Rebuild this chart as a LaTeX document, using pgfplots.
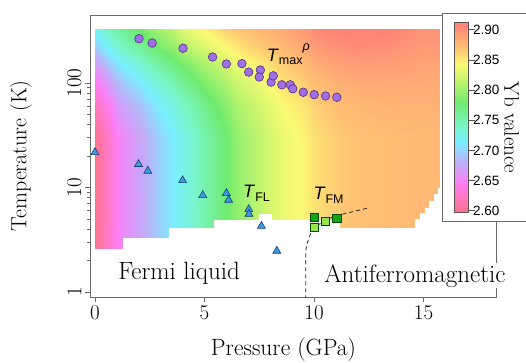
\documentclass[border=0pt]{standalone}
\usepackage{fontspec}
\setsansfont{Liberation Sans}
\usepackage{pgfplots}
\pgfplotsset{compat=1.18}
\definecolor{axgray}{RGB}{105,105,105}
\definecolor{cbgray}{RGB}{95,80,80}
\definecolor{circfill}{RGB}{160,110,230}
\definecolor{circdraw}{RGB}{80,50,130}
\definecolor{trifill}{RGB}{60,155,230}
\definecolor{tridraw}{RGB}{25,60,110}
\definecolor{sqdark}{RGB}{20,165,20}
\definecolor{sqlight}{RGB}{150,230,75}
\definecolor{sqdraw}{RGB}{0,70,0}
\pgfplotsset{colormap={yb}{rgb255(0pt)=(255,115,140) rgb255(15pt)=(255,125,245) rgb255(26pt)=(190,175,250) rgb255(37pt)=(120,240,255) rgb255(46.5pt)=(120,245,190) rgb255(57.5pt)=(110,235,110) rgb255(70pt)=(200,245,110) rgb255(78pt)=(250,250,115) rgb255(86pt)=(255,195,115) rgb255(100pt)=(255,125,120)}}
\begin{document}
\begin{tikzpicture}
\begin{axis}[
  scale only axis, width=406pt, height=282pt,
  xmin=-0.228, xmax=18.31, ymode=log, ymin=0.896, ymax=447,
  xtick={0,5,10,15}, xticklabels={0,5,10,15},
  ytick={1,10,100}, yticklabels={1,10,100},
  tick pos=left, tick align=outside,
  major tick length=5pt, minor tick length=3pt,
  axis line style={draw=axgray, line width=0.9pt},
  every tick/.append style={draw=axgray, line width=0.8pt},
  tick label style={font=\fontsize{21}{21}\selectfont},
  yticklabel style={rotate=90, anchor=south},
  every axis x label/.style={at={(axis description cs:0.4766,0)}, anchor=center, yshift=-53pt, font=\fontsize{23.5}{23.5}\selectfont},
  every axis y label/.style={at={(axis description cs:-0.17,0.5)}, rotate=90, anchor=center, font=\fontsize{22}{22}\selectfont},
  xlabel={Pressure (GPa)}, ylabel={Temperature (K)},
  colormap name=yb, point meta min=2.598, point meta max=2.913,
]
\addplot[surf, shader=interp, point meta=explicit, mesh/rows=7, mesh/ordering=y varies]
table[x=P, y=T, meta=V, row sep=\\] {
P T V\\
0 2.58 2.600\\ 0 30 2.600\\ 0 60 2.618\\ 0 100 2.642\\ 0 150 2.666\\ 0 220 2.696\\ 0 330 2.720\\
0.5 2.58 2.620\\ 0.5 30 2.620\\ 0.5 60 2.638\\ 0.5 100 2.662\\ 0.5 150 2.686\\ 0.5 220 2.716\\ 0.5 330 2.740\\
1.0 2.58 2.645\\ 1.0 30 2.645\\ 1.0 60 2.662\\ 1.0 100 2.684\\ 1.0 150 2.706\\ 1.0 220 2.733\\ 1.0 330 2.755\\
1.23 2.58 2.655\\ 1.23 30 2.655\\ 1.23 60 2.671\\ 1.23 100 2.692\\ 1.23 150 2.714\\ 1.23 220 2.741\\ 1.23 330 2.762\\
1.23 3.36 2.655\\ 1.23 30 2.655\\ 1.23 60 2.671\\ 1.23 100 2.692\\ 1.23 150 2.714\\ 1.23 220 2.741\\ 1.23 330 2.762\\
1.5 3.36 2.660\\ 1.5 30 2.660\\ 1.5 60 2.677\\ 1.5 100 2.699\\ 1.5 150 2.721\\ 1.5 220 2.748\\ 1.5 330 2.770\\
2.0 3.36 2.672\\ 2.0 30 2.672\\ 2.0 60 2.688\\ 2.0 100 2.710\\ 2.0 150 2.731\\ 2.0 220 2.758\\ 2.0 330 2.780\\
2.5 3.36 2.685\\ 2.5 30 2.685\\ 2.5 60 2.702\\ 2.5 100 2.724\\ 2.5 150 2.746\\ 2.5 220 2.773\\ 2.5 330 2.795\\
3.0 3.36 2.700\\ 3.0 30 2.700\\ 3.0 60 2.716\\ 3.0 100 2.737\\ 3.0 150 2.758\\ 3.0 220 2.784\\ 3.0 330 2.805\\
3.33 3.36 2.707\\ 3.33 30 2.707\\ 3.33 60 2.723\\ 3.33 100 2.744\\ 3.33 150 2.765\\ 3.33 220 2.791\\ 3.33 330 2.812\\
3.33 4.19 2.707\\ 3.33 30 2.707\\ 3.33 60 2.723\\ 3.33 100 2.744\\ 3.33 150 2.765\\ 3.33 220 2.791\\ 3.33 330 2.812\\
3.5 4.19 2.711\\ 3.5 30 2.711\\ 3.5 60 2.727\\ 3.5 100 2.747\\ 3.5 150 2.768\\ 3.5 220 2.794\\ 3.5 330 2.815\\
4.0 4.19 2.725\\ 4.0 30 2.725\\ 4.0 60 2.741\\ 4.0 100 2.762\\ 4.0 150 2.783\\ 4.0 220 2.809\\ 4.0 330 2.830\\
4.5 4.19 2.737\\ 4.5 30 2.737\\ 4.5 60 2.752\\ 4.5 100 2.773\\ 4.5 150 2.794\\ 4.5 220 2.819\\ 4.5 330 2.840\\
5.0 4.19 2.752\\ 5.0 30 2.752\\ 5.0 60 2.766\\ 5.0 100 2.786\\ 5.0 150 2.805\\ 5.0 220 2.829\\ 5.0 330 2.848\\
5.39 4.19 2.762\\ 5.39 30 2.762\\ 5.39 60 2.776\\ 5.39 100 2.794\\ 5.39 150 2.812\\ 5.39 220 2.835\\ 5.39 330 2.853\\
5.39 5.0 2.762\\ 5.39 30 2.762\\ 5.39 60 2.776\\ 5.39 100 2.794\\ 5.39 150 2.812\\ 5.39 220 2.835\\ 5.39 330 2.853\\
6.0 5.0 2.778\\ 6.0 30 2.778\\ 6.0 60 2.791\\ 6.0 100 2.807\\ 6.0 150 2.824\\ 6.0 220 2.845\\ 6.0 330 2.862\\
6.5 5.0 2.795\\ 6.5 30 2.795\\ 6.5 60 2.806\\ 6.5 100 2.821\\ 6.5 150 2.835\\ 6.5 220 2.853\\ 6.5 330 2.868\\
7.0 5.0 2.805\\ 7.0 30 2.805\\ 7.0 60 2.815\\ 7.0 100 2.828\\ 7.0 150 2.842\\ 7.0 220 2.859\\ 7.0 330 2.872\\
7.44 5.0 2.814\\ 7.44 30 2.814\\ 7.44 60 2.823\\ 7.44 100 2.836\\ 7.44 150 2.848\\ 7.44 220 2.864\\ 7.44 330 2.876\\
7.44 5.7 2.814\\ 7.44 30 2.814\\ 7.44 60 2.823\\ 7.44 100 2.836\\ 7.44 150 2.848\\ 7.44 220 2.864\\ 7.44 330 2.876\\
8.1 5.7 2.827\\ 8.1 30 2.827\\ 8.1 60 2.835\\ 8.1 100 2.846\\ 8.1 150 2.857\\ 8.1 220 2.870\\ 8.1 330 2.881\\
8.1 5.0 2.827\\ 8.1 30 2.827\\ 8.1 60 2.835\\ 8.1 100 2.846\\ 8.1 150 2.857\\ 8.1 220 2.870\\ 8.1 330 2.881\\
8.5 5.0 2.835\\ 8.5 30 2.835\\ 8.5 60 2.843\\ 8.5 100 2.853\\ 8.5 150 2.863\\ 8.5 220 2.875\\ 8.5 330 2.885\\
9.0 5.0 2.840\\ 9.0 30 2.840\\ 9.0 60 2.848\\ 9.0 100 2.858\\ 9.0 150 2.868\\ 9.0 220 2.880\\ 9.0 330 2.890\\
9.5 5.0 2.846\\ 9.5 30 2.846\\ 9.5 60 2.853\\ 9.5 100 2.863\\ 9.5 150 2.873\\ 9.5 220 2.885\\ 9.5 330 2.895\\
10.0 5.0 2.855\\ 10.0 30 2.855\\ 10.0 60 2.862\\ 10.0 100 2.872\\ 10.0 150 2.881\\ 10.0 220 2.893\\ 10.0 330 2.903\\
10.5 5.0 2.860\\ 10.5 30 2.860\\ 10.5 60 2.867\\ 10.5 100 2.876\\ 10.5 150 2.886\\ 10.5 220 2.898\\ 10.5 330 2.907\\
11.2 5.0 2.866\\ 11.2 30 2.866\\ 11.2 60 2.873\\ 11.2 100 2.881\\ 11.2 150 2.890\\ 11.2 220 2.901\\ 11.2 330 2.910\\
11.2 4.2 2.866\\ 11.2 30 2.866\\ 11.2 60 2.873\\ 11.2 100 2.881\\ 11.2 150 2.890\\ 11.2 220 2.901\\ 11.2 330 2.910\\
12.0 4.2 2.870\\ 12.0 30 2.870\\ 12.0 60 2.876\\ 12.0 100 2.884\\ 12.0 150 2.893\\ 12.0 220 2.903\\ 12.0 330 2.911\\
13.0 4.2 2.872\\ 13.0 30 2.872\\ 13.0 60 2.878\\ 13.0 100 2.885\\ 13.0 150 2.893\\ 13.0 220 2.902\\ 13.0 330 2.910\\
14.0 4.2 2.874\\ 14.0 30 2.874\\ 14.0 60 2.879\\ 14.0 100 2.885\\ 14.0 150 2.891\\ 14.0 220 2.899\\ 14.0 330 2.905\\
14.57 4.2 2.875\\ 14.57 30 2.875\\ 14.57 60 2.879\\ 14.57 100 2.884\\ 14.57 150 2.890\\ 14.57 220 2.897\\ 14.57 330 2.902\\
14.57 5.1 2.875\\ 14.57 30 2.875\\ 14.57 60 2.879\\ 14.57 100 2.884\\ 14.57 150 2.890\\ 14.57 220 2.897\\ 14.57 330 2.902\\
14.8 5.1 2.875\\ 14.8 30 2.875\\ 14.8 60 2.879\\ 14.8 100 2.884\\ 14.8 150 2.889\\ 14.8 220 2.895\\ 14.8 330 2.900\\
14.8 5.8 2.875\\ 14.8 30 2.875\\ 14.8 60 2.879\\ 14.8 100 2.884\\ 14.8 150 2.889\\ 14.8 220 2.895\\ 14.8 330 2.900\\
15.0 5.8 2.875\\ 15.0 30 2.875\\ 15.0 60 2.879\\ 15.0 100 2.884\\ 15.0 150 2.889\\ 15.0 220 2.895\\ 15.0 330 2.900\\
15.0 6.5 2.875\\ 15.0 30 2.875\\ 15.0 60 2.879\\ 15.0 100 2.884\\ 15.0 150 2.889\\ 15.0 220 2.895\\ 15.0 330 2.900\\
15.2 6.5 2.875\\ 15.2 30 2.875\\ 15.2 60 2.879\\ 15.2 100 2.884\\ 15.2 150 2.889\\ 15.2 220 2.895\\ 15.2 330 2.900\\
15.2 7.6 2.875\\ 15.2 30 2.875\\ 15.2 60 2.879\\ 15.2 100 2.884\\ 15.2 150 2.889\\ 15.2 220 2.895\\ 15.2 330 2.900\\
15.45 7.6 2.875\\ 15.45 30 2.875\\ 15.45 60 2.879\\ 15.45 100 2.884\\ 15.45 150 2.889\\ 15.45 220 2.895\\ 15.45 330 2.900\\
15.45 8.9 2.875\\ 15.45 30 2.875\\ 15.45 60 2.879\\ 15.45 100 2.884\\ 15.45 150 2.889\\ 15.45 220 2.895\\ 15.45 330 2.900\\
15.6 8.9 2.875\\ 15.6 30 2.875\\ 15.6 60 2.879\\ 15.6 100 2.884\\ 15.6 150 2.889\\ 15.6 220 2.895\\ 15.6 330 2.900\\
15.6 10 2.875\\ 15.6 30 2.875\\ 15.6 60 2.879\\ 15.6 100 2.884\\ 15.6 150 2.889\\ 15.6 220 2.895\\ 15.6 330 2.900\\
15.75 10 2.875\\ 15.75 30 2.875\\ 15.75 60 2.879\\ 15.75 100 2.884\\ 15.75 150 2.889\\ 15.75 220 2.895\\ 15.75 330 2.900\\
};
% AFM boundary
\addplot[black!85, line width=0.8pt, dash pattern=on 4pt off 3pt, smooth, tension=0.5] coordinates {
(9.62,0.85) (9.62,1.62) (9.63,2.52) (9.77,3.29) (10.0,4.1) (10.5,4.78) (11.0,5.34) (12.41,6.32)};
% T_max
\addplot[only marks, mark=*, mark size=4.3pt, mark options={fill=circfill, draw=circdraw, line width=0.6pt}] coordinates {
(2.01,265) (2.61,241) (4.02,215) (5.37,177) (6.0,152) (6.71,153) (7.02,127) (7.55,133) (7.5,114) (8.04,102) (8.14,117) (8.53,96) (8.92,96) (9.03,88) (9.51,81.5) (10.01,77.3) (10.53,75.1) (11.04,73)};
% T_FL
\addplot[only marks, mark=triangle*, mark size=4.6pt, mark options={fill=trifill, draw=tridraw, line width=0.6pt}] coordinates {
(0,21.7) (1.99,16.7) (2.41,14.4) (4.0,11.7) (4.92,8.42) (6.0,8.8) (6.1,7.6) (7.02,6.19) (7.03,5.58) (7.6,4.28) (8.3,2.47)};
% T_FM
\addplot[only marks, mark=square*, mark size=4.1pt, mark options={fill=sqdark, draw=sqdraw, line width=0.6pt}] coordinates {
(10.03,5.22) (11.04,5.11)};
\addplot[only marks, mark=square*, mark size=4.1pt, mark options={fill=sqlight, draw=sqdraw, line width=0.6pt}] coordinates {
(10.03,4.19) (10.53,4.78)};
\node[anchor=base west, inner sep=0pt, font=\sffamily\fontsize{18}{18}\selectfont] at (axis cs:7.84,160) {\textit{T}\raisebox{-3.3pt}{\fontsize{12.5}{12.5}\selectfont max}\raisebox{11pt}{\fontsize{12.5}{12.5}\selectfont\textit{ρ}}};
\node[anchor=base west, inner sep=0pt, font=\sffamily\fontsize{18}{18}\selectfont] at (axis cs:6.76,8.11) {\textit{T}\raisebox{-4.7pt}{\fontsize{12.5}{12.5}\selectfont FL}};
\node[anchor=base west, inner sep=0pt, font=\sffamily\fontsize{18}{18}\selectfont] at (axis cs:9.97,7.6) {\textit{T}\raisebox{-3.3pt}{\fontsize{12.5}{12.5}\selectfont FM}};
\node[font=\fontsize{25}{25}\selectfont] at (axis cs:3.84,1.50) {Fermi liquid};
\coordinate (afm) at (axis cs:14.61,1.43);
\end{axis}
\draw[draw=axgray, line width=0.9pt, fill=white] (352pt,76pt) rectangle (470pt,284pt);
\node[fill=white, inner sep=1pt, font=\fontsize{25}{25}\selectfont] at (afm) {Antiferromagnetic};
\begin{axis}[scale only axis, width=406pt, height=282pt, hide axis, xmin=0, xmax=1, ymin=0, ymax=1,
  colormap name=yb, point meta min=2.598, point meta max=2.913,
  colorbar,
  colorbar style={at={(parent axis.south west)}, anchor=south west, xshift=356pt, yshift=85pt,
     scale only axis, width=14pt, height=190pt,
     ytick={2.6,2.65,2.7,2.75,2.8,2.85,2.9},
     ytick pos=right, yticklabel pos=right, tick align=outside, major tick length=6pt,
     axis line style={draw=cbgray, line width=0.8pt},
     every tick/.append style={draw=cbgray, line width=0.8pt},
     yticklabel style={xshift=-5pt, font=\sffamily\fontsize{13.5}{14}\selectfont, /pgf/number format/.cd, fixed, fixed zerofill, precision=2, assume math mode=true},
     scaled y ticks=false,
  }]
\addplot[draw=none] coordinates {(0.5,0.5)};
\end{axis}
\node[rotate=-90, font=\fontsize{21}{21}\selectfont] at (421.5pt,169.5pt) {Yb valence};
\pgfresetboundingbox
\path[use as bounding box] (-90pt,-66pt) rectangle (436pt,297pt);
\end{tikzpicture}
\end{document}
